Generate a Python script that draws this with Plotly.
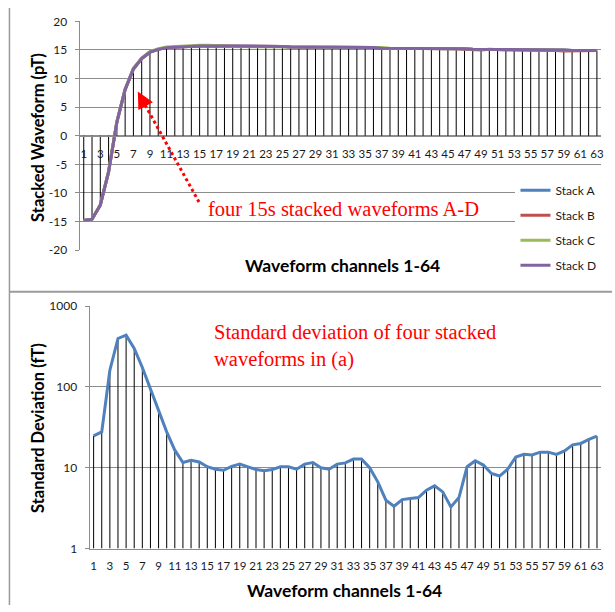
import plotly.graph_objects as go

channels = list(range(1, 64))

stack_a = [-14.8, -14.6, -12.1, -6.3, 2.4, 8.1, 11.7, 13.5, 14.6, 15.1,
           15.4, 15.5, 15.6, 15.6, 15.7, 15.7, 15.7, 15.6, 15.6, 15.6,
           15.6, 15.6, 15.6, 15.6, 15.6, 15.5, 15.5, 15.5, 15.5, 15.4,
           15.4, 15.4, 15.4, 15.4, 15.4, 15.4, 15.3, 15.3, 15.3, 15.3,
           15.3, 15.3, 15.3, 15.2, 15.2, 15.2, 15.2, 15.1, 15.1, 15.1,
           15.0, 15.0, 15.0, 15.0, 15.0, 15.0, 15.0, 15.0, 15.0, 14.9,
           14.9, 14.9, 14.9]
stack_b = [-14.8, -14.6, -12.2, -6.4, 2.3, 8.0, 11.6, 13.5, 14.6, 15.1,
           15.4, 15.5, 15.6, 15.6, 15.7, 15.7, 15.7, 15.6, 15.6, 15.6,
           15.6, 15.6, 15.6, 15.6, 15.6, 15.5, 15.5, 15.5, 15.5, 15.4,
           15.4, 15.4, 15.4, 15.4, 15.4, 15.4, 15.3, 15.3, 15.3, 15.3,
           15.3, 15.3, 15.3, 15.2, 15.2, 15.2, 15.1, 15.0, 15.0, 15.1,
           15.0, 15.0, 15.0, 15.0, 15.0, 15.0, 15.0, 14.9, 14.8, 14.8,
           14.9, 14.9, 14.9]
stack_c = [-14.8, -14.6, -12.0, -6.2, 2.5, 8.2, 11.8, 13.6, 14.7, 15.2,
           15.5, 15.6, 15.7, 15.8, 15.8, 15.8, 15.8, 15.7, 15.6, 15.6,
           15.6, 15.6, 15.6, 15.6, 15.6, 15.6, 15.6, 15.6, 15.5, 15.4,
           15.4, 15.4, 15.4, 15.4, 15.5, 15.5, 15.4, 15.3, 15.3, 15.3,
           15.3, 15.3, 15.3, 15.2, 15.2, 15.2, 15.2, 15.1, 15.1, 15.1,
           15.0, 15.0, 15.0, 15.0, 15.0, 15.0, 15.0, 15.0, 15.0, 14.9,
           14.9, 14.9, 14.9]
stack_d = [-14.8, -14.6, -12.1, -6.3, 2.4, 8.1, 11.7, 13.5, 14.6, 15.1,
           15.4, 15.5, 15.6, 15.6, 15.7, 15.7, 15.7, 15.6, 15.6, 15.6,
           15.6, 15.6, 15.6, 15.6, 15.6, 15.5, 15.5, 15.5, 15.5, 15.4,
           15.4, 15.4, 15.4, 15.4, 15.4, 15.4, 15.3, 15.3, 15.3, 15.3,
           15.3, 15.3, 15.3, 15.2, 15.2, 15.2, 15.2, 15.1, 15.1, 15.1,
           15.0, 15.0, 15.0, 15.0, 15.0, 15.0, 15.0, 15.0, 15.0, 14.9,
           14.9, 14.9, 14.9]

std_dev = [24.8, 27.8, 161, 398, 438, 299, 174, 96, 51.6, 27.8,
           16.5, 11.6, 12.4, 11.8, 10.3, 9.6, 9.3, 10.4, 11.1, 10.3,
           9.5, 9.2, 9.5, 10.3, 10.3, 9.6, 11.1, 11.6, 10.0, 9.6,
           11.1, 11.5, 12.8, 12.8, 10.0, 6.7, 3.97, 3.34, 4.04, 4.16,
           4.28, 5.27, 5.97, 5.03, 3.28, 4.28, 10.3, 12.2, 10.8, 8.5,
           7.9, 9.6, 13.6, 14.7, 14.4, 15.6, 15.6, 14.6, 16.2, 19.2,
           20.0, 22.4, 24.6]

top_tick_vals = list(range(1, 64, 2))
top_y_ticks = [-20, -15, -10, -5, 0, 5, 10, 15, 20]
log_ticks = [1, 10, 100, 1000]

series_names = ["Stack A", "Stack B", "Stack C", "Stack D"]
series_colors = ["#4F81BD", "#C0504D", "#9BBB59", "#8064A2"]

W, H = 615, 612
# the captured page appears offset ~8px and squeezed ~2.5% vertically;
# positions below are given in target-picture pixels and converted here.
VS, VO = 0.975, 8.2
def px(x):
    return x / W
def py(y):
    yf = y / VS - VO
    return 1 - yf / H

GRID = "#8c8c8c"
TXT = "#1a1a1a"
FONT = "Lato"

fig = go.Figure()

# drop lines (top)
dx, dy = [], []
for c, v in zip(channels, stack_d):
    dx += [c, c, None]
    dy += [0, v, None]
fig.add_trace(go.Scatter(x=dx, y=dy, mode="lines", line=dict(color="black", width=1),
                         showlegend=False, hoverinfo="skip", xaxis="x", yaxis="y"))

for name, col, vals in zip(series_names, series_colors, [stack_a, stack_b, stack_c, stack_d]):
    fig.add_trace(go.Scatter(x=channels, y=vals, mode="lines", name=name,
                             line=dict(color=col, width=3), legendgroup=name,
                             xaxis="x", yaxis="y"))

# drop lines (bottom)
bx, by = [], []
for c, v in zip(channels, std_dev):
    bx += [c, c, None]
    by += [1, v, None]
fig.add_trace(go.Scatter(x=bx, y=by, mode="lines", line=dict(color="black", width=1),
                         showlegend=False, hoverinfo="skip", xaxis="x2", yaxis="y2"))
fig.add_trace(go.Scatter(x=channels, y=std_dev, mode="lines", line=dict(color="#4F81BD", width=3),
                         showlegend=False, xaxis="x2", yaxis="y2"))

xtickfont = dict(family=FONT, size=11.5, color=TXT)
ytickfont = dict(family=FONT, size=12, color=TXT)

fig.update_layout(
    width=W, height=H,
    margin=dict(l=0, r=0, t=0, b=0),
    paper_bgcolor="white", plot_bgcolor="white",
    font=dict(family=FONT, color=TXT),
    xaxis=dict(domain=[px(80), px(604)], range=[0.5, 63.5], tickvals=top_tick_vals,
               anchor="free", position=py(135.8), showline=True, linecolor=GRID, linewidth=1,
               showgrid=False, zeroline=False, ticks="", tickfont=xtickfont,
               ticklabelstandoff=7, tickangle=0),
    yaxis=dict(domain=[py(250), py(21.3)], range=[-20, 20], tickvals=top_y_ticks,
               ticktext=[str(t) for t in top_y_ticks],
               anchor="x", showline=True, linecolor=GRID, gridcolor=GRID, gridwidth=1,
               zeroline=False, ticks="outside", ticklen=4, tickcolor=GRID,
               tickfont=ytickfont, ticklabelstandoff=5),
    xaxis2=dict(domain=[px(90), px(604)], range=[0.5, 63.5], tickvals=top_tick_vals,
                anchor="y2", showline=True, linecolor=GRID, showgrid=False, zeroline=False,
                ticks="", tickfont=xtickfont, ticklabelstandoff=7, tickangle=0),
    yaxis2=dict(domain=[py(548.3), py(306)], type="log", range=[0, 3], tickvals=log_ticks,
                ticktext=[str(t) for t in log_ticks],
                anchor="x2", showline=True, linecolor=GRID, gridcolor=GRID, gridwidth=1,
                zeroline=False, ticks="outside", ticklen=4, tickcolor=GRID,
                tickfont=ytickfont, ticklabelstandoff=5),
    legend=dict(x=px(518), y=py(175.7), xanchor="left", yanchor="top",
                bgcolor="white", font=dict(family=FONT, size=12, color=TXT),
                itemwidth=30, traceorder="grouped", tracegroupgap=6),
    showlegend=True,
)

# borders
fig.add_shape(type="line", xref="paper", yref="paper", x0=px(9.5), x1=px(9.5), y0=py(8), y1=0,
              line=dict(color="#9a9a9a", width=1.5))
fig.add_shape(type="line", xref="paper", yref="paper", x0=px(9.5), x1=1, y0=py(291.5), y1=py(291.5),
              line=dict(color="#9a9a9a", width=2))

# arrow (dotted)
fig.add_shape(type="line", xref="paper", yref="paper", x0=px(200), y0=py(202), x1=px(143), y1=py(100),
              line=dict(color="#FF0000", width=3, dash="dot"))
fig.add_annotation(xref="paper", yref="paper", x=px(138.5), y=py(91.5), ax=7, ay=13,
                   text="", showarrow=True, arrowhead=2, arrowsize=1.1, arrowwidth=3,
                   arrowcolor="#FF0000")

# axis titles
def title(x, y, t, angle=0, size=17.5):
    fig.add_annotation(xref="paper", yref="paper", x=px(x), y=py(y), text="<b>" + t + "</b>",
                       showarrow=False, textangle=angle, xanchor="center", yanchor="middle",
                       font=dict(family=FONT, size=size, color="black"))
title(344, 265, "Waveform channels 1-64")
title(346, 590, "Waveform channels 1-64")
title(38, 137, "Stacked Waveform (pT)", -90, 16.5)
title(38, 428, "Standard Deviation (fT)", -90, 16.5)

# red notes
red_font = dict(family="Liberation Serif", size=20.5, color="#FF0000")
notes = [
    (207, 209, "four 15s stacked waveforms A-D"),
    (213, 346, "Standard deviation of four stacked<br>waveforms in (a)"),
]
for x, y, t in notes:
    fig.add_annotation(xref="paper", yref="paper", x=px(x), y=py(y), text=t, showarrow=False,
                       xanchor="left", yanchor="middle", align="left", font=red_font)

fig.write_html("out.html")
